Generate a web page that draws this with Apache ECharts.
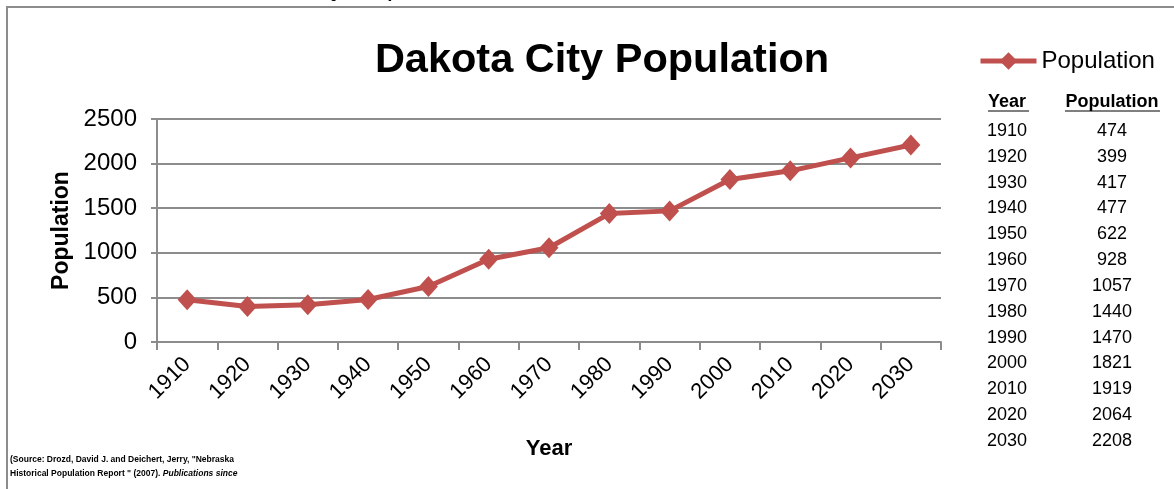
<!DOCTYPE html>
<html><head><meta charset="utf-8">
<script src="https://cdn.jsdelivr.net/npm/echarts@6/dist/echarts.min.js"></script>
<style>html,body{margin:0;padding:0;background:#fff}#c{width:1174px;height:489px}</style>
</head><body><div id="c"></div>
<script>
const years = ['1910','1920','1930','1940','1950','1960','1970','1980','1990','2000','2010','2020','2030'];
const population = [474,399,417,477,622,928,1057,1440,1470,1821,1919,2064,2208];
const yTicks = {min:0, max:2500, interval:500};
const titleText = 'Dakota City Population';
const seriesName = 'Population';
const sourceLine1 = '(Source: Drozd, David J. and Deichert, Jerry, "Nebraska';
const sourceLine2a = 'Historical Population Report " (2007). ';
const sourceLine2b = 'Publications since';

const FONT = '"Liberation Sans", Arial, sans-serif';
const RED = '#C0504D';
const GRAY = '#8c8c8c';

const chart = echarts.init(document.getElementById('c'), null, {renderer:'canvas'});

const graphics = [];
// frame
graphics.push({type:'polyline', shape:{points:[[7,489],[7,7],[1174,7]]}, style:{stroke:GRAY, lineWidth:2, fill:null}, silent:true});
// cut-off text at top (only descenders visible)
graphics.push({type:'text', x:200, y:1, style:{text:'Dakota City Population', font:'28px '+FONT, fill:'#000', verticalAlign:'bottom', align:'left', lineHeight:28}});
// table header
graphics.push({type:'text', x:988, y:102, style:{text:'Year', font:'bold 18px '+FONT, fill:'#000', align:'left', verticalAlign:'middle'}});
graphics.push({type:'line', shape:{x1:988, y1:111, x2:1029, y2:111}, style:{stroke:'#000', lineWidth:1.2}});
graphics.push({type:'text', x:1112, y:102, style:{text:'Population', font:'bold 18px '+FONT, fill:'#000', align:'center', verticalAlign:'middle'}});
graphics.push({type:'line', shape:{x1:1065, y1:111, x2:1160, y2:111}, style:{stroke:'#000', lineWidth:1.2}});
years.forEach((yr,i)=>{
  const yy = 131 + i*25.83;
  graphics.push({type:'text', x:987, y:yy, style:{text:yr, font:'18px '+FONT, fill:'#000', align:'left', verticalAlign:'middle'}});
  graphics.push({type:'text', x:1112, y:yy, style:{text:String(population[i]), font:'18px '+FONT, fill:'#000', align:'center', verticalAlign:'middle'}});
});
// source
graphics.push({type:'text', x:10, y:460, style:{text:sourceLine1, font:'bold 8.5px '+FONT, fill:'#000', verticalAlign:'middle'}});
graphics.push({type:'text', x:10, y:474, style:{
  text:'{a|'+sourceLine2a+'}{b|'+sourceLine2b+'}',
  rich:{a:{font:'bold 8.5px '+FONT, fill:'#000'}, b:{font:'italic bold 8.5px '+FONT, fill:'#000'}},
  verticalAlign:'middle'}});

chart.setOption({
  animation:false,
  textStyle:{fontFamily:FONT},
  title:{text:titleText, left:597, textAlign:'center', top:35, textStyle:{fontFamily:FONT, fontWeight:'bold', fontSize:41.5, color:'#000'}},
  legend:{data:[seriesName], left:978, top:49, padding:0, itemWidth:56, itemHeight:22, itemGap:4,
    lineStyle:{width:5},
    textStyle:{fontFamily:FONT, fontSize:24, color:'#000'}},
  grid:{left:157, right:233, top:119, bottom:147},
  xAxis:{type:'category', data:years, boundaryGap:true,
    name:'Year', nameLocation:'middle', nameGap:96,
    nameTextStyle:{fontFamily:FONT, fontWeight:'bold', fontSize:22, color:'#000'},
    axisLine:{lineStyle:{color:GRAY, width:2}},
    axisTick:{show:true, length:8, lineStyle:{color:GRAY, width:2}},
    axisLabel:{rotate:45, margin:19, fontFamily:FONT, fontSize:22, color:'#000'}},
  yAxis:{type:'value', min:yTicks.min, max:yTicks.max, interval:yTicks.interval,
    name:'Population', nameLocation:'middle', nameGap:82, nameRotate:90,
    nameTextStyle:{fontFamily:FONT, fontWeight:'bold', fontSize:23, color:'#000'},
    axisLine:{show:true, lineStyle:{color:GRAY, width:2}},
    axisTick:{show:true, length:6, lineStyle:{color:GRAY, width:2}},
    axisLabel:{margin:20, fontFamily:FONT, fontSize:24, color:'#000', formatter:v=>String(v)},
    splitLine:{show:true, lineStyle:{color:GRAY, width:2}}},
  series:[{name:seriesName, type:'line', data:population,
    lineStyle:{color:RED, width:5}, itemStyle:{color:RED},
    symbol:'diamond', symbolSize:[19,21], showSymbol:true}],
  graphic:graphics
});
</script></body></html>
